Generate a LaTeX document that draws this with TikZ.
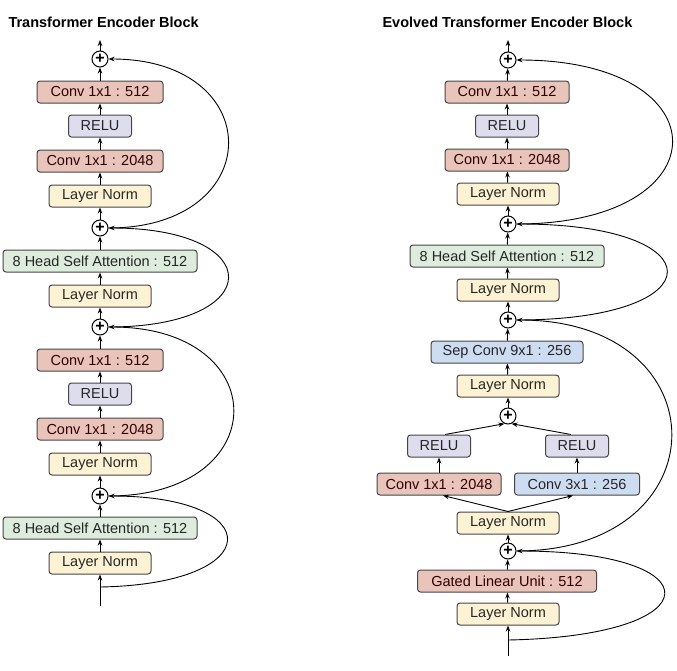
\documentclass[tikz,border=0pt]{standalone}
\usepackage{fontspec}
\setmainfont{Liberation Sans}
\usetikzlibrary{arrows.meta}

\definecolor{convred}{RGB}{233,196,186}
\definecolor{reluviolet}{RGB}{221,221,238}
\definecolor{normyellow}{RGB}{253,243,212}
\definecolor{attngreen}{RGB}{221,236,221}
\definecolor{sepblue}{RGB}{206,220,242}
\definecolor{boxedge}{RGB}{70,70,70}

\tikzset{
    block/.style={draw=boxedge, line width=1pt, rounded corners=3pt, minimum height=22pt,
        inner xsep=8pt, inner ysep=0pt, font=\fontsize{14.5}{17}\selectfont, text=black!85},
    conv/.style={block, fill=convred, text=black!80!red},
    relu/.style={block, fill=reluviolet, minimum width=63pt},
    norm/.style={block, fill=normyellow, minimum width=102pt},
    attn/.style={block, fill=attngreen},
    sep/.style={block, fill=sepblue},
    addop/.style={draw, circle, line width=1pt, minimum size=16pt, inner sep=0pt,
        font=\fontsize{16}{16}\selectfont\bfseries},
    flow/.style={-{Stealth[length=6pt,width=4.5pt]}, line width=0.9pt},
    title/.style={font=\fontsize{14.5}{17}\selectfont\bfseries, anchor=west}
}

\begin{document}
\begin{tikzpicture}[x=1pt, y=-1pt]
    \useasboundingbox (0,0) rectangle (677,670);

    % left: transformer encoder block
    \node[title] (ltitle) at (5,22) {Transformer Encoder Block};

    \coordinate (lout) at (100,40);
    \node[addop] (ladd4) at (100,59) {+};
    \node[conv, minimum width=126pt] (lconv4) at (100,92) {Conv 1x1 : 512};
    \node[relu] (lrelu2) at (100,126) {RELU};
    \node[conv, minimum width=126pt] (lconv3) at (100,161) {Conv 1x1 : 2048};
    \node[norm] (lnorm4) at (100,196) {Layer Norm};
    \node[addop] (ladd3) at (100,228) {+};
    \node[attn, minimum width=194pt] (lattn2) at (100,261) {8 Head Self Attention : 512};
    \node[norm] (lnorm3) at (100,296) {Layer Norm};
    \node[addop] (ladd2) at (100,327) {+};
    \node[conv, minimum width=126pt] (lconv2) at (100,360) {Conv 1x1 : 512};
    \node[relu] (lrelu1) at (100,394) {RELU};
    \node[conv, minimum width=126pt] (lconv1) at (100,429) {Conv 1x1 : 2048};
    \node[norm] (lnorm2) at (100,464) {Layer Norm};
    \node[addop] (ladd1) at (100,496) {+};
    \node[attn, minimum width=194pt] (lattn1) at (100,528) {8 Head Self Attention : 512};
    \node[norm] (lnorm1) at (100,563) {Layer Norm};
    \coordinate (lsplit) at (100,587);
    \coordinate (lin) at (100,606);

    \draw[flow] (lin) -- (lnorm1);
    \draw[flow] (lnorm1) -- (lattn1);
    \draw[flow] (lattn1) -- (ladd1);
    \draw[flow] (ladd1) -- (lnorm2);
    \draw[flow] (lnorm2) -- (lconv1);
    \draw[flow] (lconv1) -- (lrelu1);
    \draw[flow] (lrelu1) -- (lconv2);
    \draw[flow] (lconv2) -- (ladd2);
    \draw[flow] (ladd2) -- (lnorm3);
    \draw[flow] (lnorm3) -- (lattn2);
    \draw[flow] (lattn2) -- (ladd3);
    \draw[flow] (ladd3) -- (lnorm4);
    \draw[flow] (lnorm4) -- (lconv3);
    \draw[flow] (lconv3) -- (lrelu2);
    \draw[flow] (lrelu2) -- (lconv4);
    \draw[flow] (lconv4) -- (ladd4);
    \draw[flow] (ladd4) -- (lout);

    \draw[flow] (lsplit) .. controls (268,584) and (268,496) .. (ladd1.east);
    \draw[flow] (ladd1.east) .. controls (275,496) and (275,327) .. (ladd2.east);
    \draw[flow] (ladd2.east) .. controls (268,327) and (268,228) .. (ladd3.east);
    \draw[flow] (ladd3.east) .. controls (268,228) and (268,59) .. (ladd4.east);

    % right: evolved transformer encoder block
    \node[title] (rtitle) at (379,22) {Evolved Transformer Encoder Block};

    \coordinate (rout) at (508,40);
    \node[addop] (radd5) at (508,60) {+};
    \node[conv, minimum width=124pt] (rconv4) at (507,92) {Conv 1x1 : 512};
    \node[relu] (rrelu3) at (507,126) {RELU};
    \node[conv, minimum width=124pt] (rconv3) at (507,160) {Conv 1x1 : 2048};
    \node[norm] (rnorm5) at (508,194) {Layer Norm};
    \node[addop] (radd4) at (508,224) {+};
    \node[attn, minimum width=194pt] (rattn) at (507,256) {8 Head Self Attention : 512};
    \node[norm] (rnorm4) at (508,290) {Layer Norm};
    \node[addop] (radd3) at (508,320) {+};
    \node[sep, minimum width=152pt] (rsep) at (507,352) {Sep Conv 9x1 : 256};
    \node[norm] (rnorm3) at (508,386) {Layer Norm};
    \node[addop] (radd2) at (508,416) {+};
    \node[relu] (rrelu1) at (439,446) {RELU};
    \node[relu] (rrelu2) at (577,446) {RELU};
    \node[conv, minimum width=124pt] (rconv1) at (439,484) {Conv 1x1 : 2048};
    \node[sep, minimum width=125pt] (rconv2) at (577,484) {Conv 3x1 : 256};
    \node[norm] (rnorm2) at (508,523) {Layer Norm};
    \node[addop] (radd1) at (508,551) {+};
    \node[conv, minimum width=179pt] (rglu) at (507,581) {Gated Linear Unit : 512};
    \node[norm] (rnorm1) at (508,614) {Layer Norm};
    \coordinate (rsplit) at (508,640);
    \coordinate (rin) at (508,656);

    \draw[flow] (rin) -- (rnorm1);
    \draw[flow] (rnorm1) -- (rglu);
    \draw[flow] (rglu) -- (radd1);
    \draw[flow] (radd1) -- (rnorm2);
    \draw[flow] (rnorm2.north) -- ([xshift=4pt]rconv1.south);
    \draw[flow] (rnorm2.north) -- ([xshift=-4pt]rconv2.south);
    \draw[flow] (rconv1) -- (rrelu1);
    \draw[flow] (rconv2) -- (rrelu2);
    \draw[flow] ([xshift=6pt]rrelu1.north) -- (radd2.-115);
    \draw[flow] ([xshift=-6pt]rrelu2.north) -- (radd2.-65);
    \draw[flow] (radd2) -- (rnorm3);
    \draw[flow] (rnorm3) -- (rsep);
    \draw[flow] (rsep) -- (radd3);
    \draw[flow] (radd3) -- (rnorm4);
    \draw[flow] (rnorm4) -- (rattn);
    \draw[flow] (rattn) -- (radd4);
    \draw[flow] (radd4) -- (rnorm5);
    \draw[flow] (rnorm5) -- (rconv3);
    \draw[flow] (rconv3) -- (rrelu3);
    \draw[flow] (rrelu3) -- (rconv4);
    \draw[flow] (rconv4) -- (radd5);
    \draw[flow] (radd5) -- (rout);

    \draw[flow] (rsplit) .. controls (715,636) and (715,551) .. (radd1.east);
    \draw[flow] (radd1.east) .. controls (723,551) and (723,320) .. (radd3.east);
    \draw[flow] (radd3.east) .. controls (717,320) and (717,224) .. (radd4.east);
    \draw[flow] (radd4.east) .. controls (724,224) and (724,60) .. (radd5.east);
\end{tikzpicture}
\end{document}
